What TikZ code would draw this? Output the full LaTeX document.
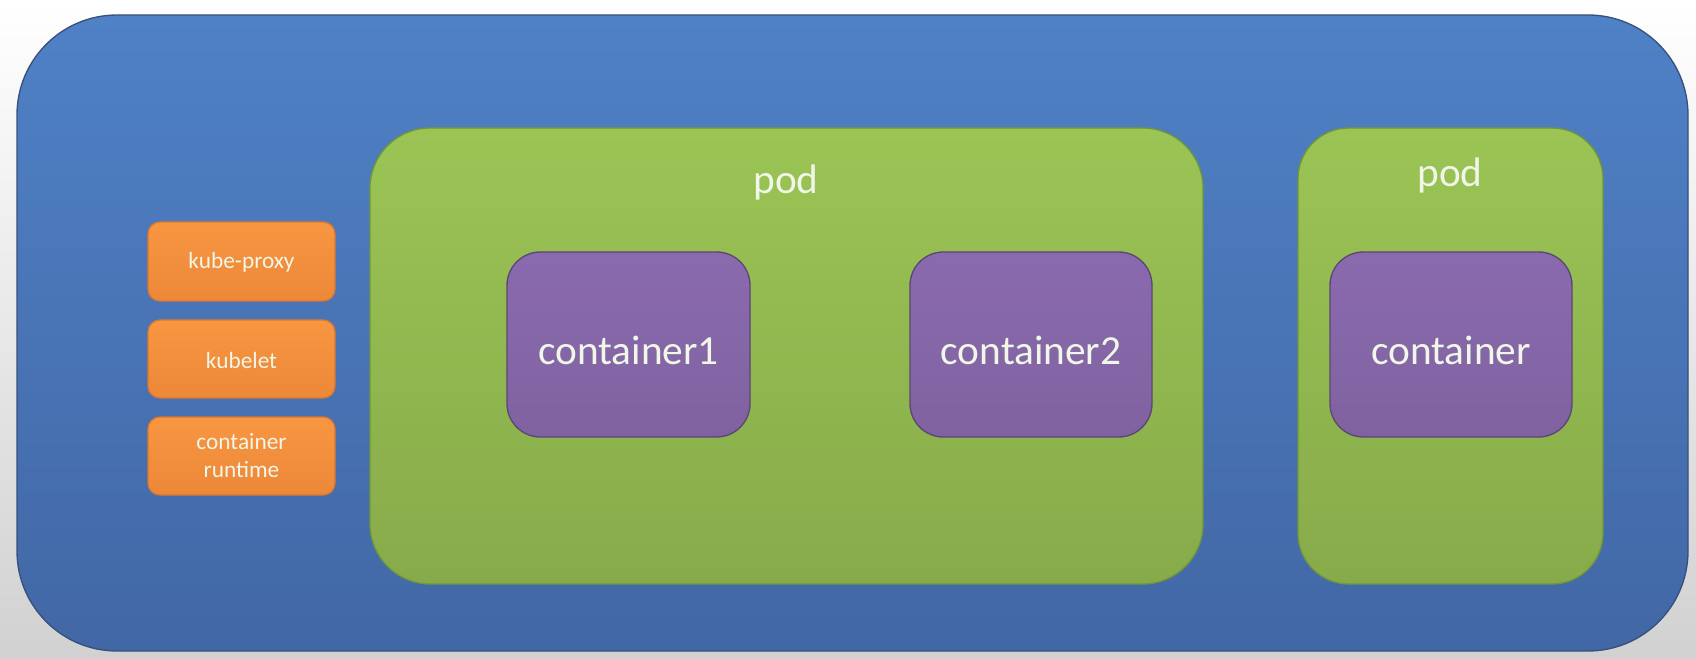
\documentclass[tikz,border=0pt]{standalone}
\usepackage{fontspec}
\setmainfont{Carlito}

\definecolor{nodeblue}{RGB}{79,129,198}
\definecolor{nodeblueb}{RGB}{66,103,165}
\definecolor{nodeedge}{RGB}{55,80,125}
\definecolor{podgreen}{RGB}{155,196,85}
\definecolor{podgreenb}{RGB}{135,171,74}
\definecolor{podedge}{RGB}{112,150,60}
\definecolor{ctrpurple}{RGB}{138,106,174}
\definecolor{ctrpurpleb}{RGB}{128,98,160}
\definecolor{ctredge}{RGB}{90,72,115}
\definecolor{agentorange}{RGB}{248,150,66}
\definecolor{agentorangeb}{RGB}{236,136,56}
\definecolor{agentedge}{RGB}{220,120,45}
\definecolor{labeltext}{RGB}{240,246,232}

\tikzset{
  bigtext/.style={text=labeltext,font=\fontsize{31}{36}\selectfont,inner sep=0.75pt},
  smalltext/.style={text=labeltext,font=\fontsize{17.5}{21}\selectfont,inner sep=0.75pt,align=center},
}

\begin{document}
\begin{tikzpicture}[x=0.75pt,y=0.75pt,yscale=-1,xscale=1]

%Background
\shade[top color=white,bottom color=black!18] (0,0) rectangle (1696,659);
\path[use as bounding box] (0,0) rectangle (1696,659);

%Shape: Node [id:worker]
\draw[nodeedge,line width=1pt,top color=nodeblue,bottom color=nodeblueb,rounded corners=75pt] (17,15) rectangle (1688,651);

%Shape: Pod [id:pod1]
\draw[podedge,line width=1pt,top color=podgreen,bottom color=podgreenb,rounded corners=45pt] (370,128) rectangle (1203,584);
%Shape: Pod [id:pod2]
\draw[podedge,line width=1pt,top color=podgreen,bottom color=podgreenb,rounded corners=38pt] (1298,128) rectangle (1603,584);

%Shape: Container [id:ctr1]
\draw[ctredge,line width=1pt,top color=ctrpurple,bottom color=ctrpurpleb,rounded corners=25pt] (507,252) rectangle (750,437);
%Shape: Container [id:ctr2]
\draw[ctredge,line width=1pt,top color=ctrpurple,bottom color=ctrpurpleb,rounded corners=25pt] (910,252) rectangle (1152,437);
%Shape: Container [id:ctr3]
\draw[ctredge,line width=1pt,top color=ctrpurple,bottom color=ctrpurpleb,rounded corners=25pt] (1330,252) rectangle (1572,437);

%Shape: Agent [id:proxy]
\draw[agentedge,line width=1pt,top color=agentorange,bottom color=agentorangeb,rounded corners=9pt] (148,222) rectangle (335,301);
%Shape: Agent [id:kubelet]
\draw[agentedge,line width=1pt,top color=agentorange,bottom color=agentorangeb,rounded corners=9pt] (148,320) rectangle (335,398);
%Shape: Agent [id:runtime]
\draw[agentedge,line width=1pt,top color=agentorange,bottom color=agentorangeb,rounded corners=9pt] (148,417) rectangle (335,495);

% Text Node
\draw (786,182) node [bigtext] (podlabelA) {pod};
% Text Node
\draw (1450,175) node [bigtext] (podlabelB) {pod};
% Text Node
\draw (628.5,350) node [bigtext] (ctrlabelA) {container1};
% Text Node
\draw (1031,350) node [bigtext] (ctrlabelB) {container2};
% Text Node
\draw (1451,350) node [bigtext] (ctrlabelC) {container};
% Text Node
\draw (241.5,262) node [smalltext] (proxylabel) {kube-proxy};
% Text Node
\draw (241.5,360) node [smalltext] (kubeletlabel) {kubelet};
% Text Node
\draw (241.5,456) node [smalltext] (runtimelabel) {container\\runtime};

\end{tikzpicture}
\end{document}
